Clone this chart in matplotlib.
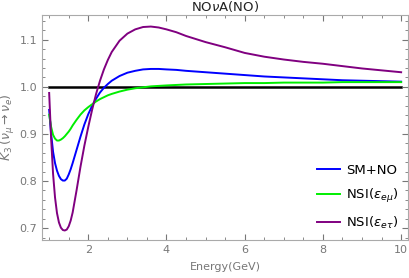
#!/usr/bin/env python

import numpy as np
import matplotlib
matplotlib.use('Agg')
import matplotlib.pyplot as plt
from matplotlib.ticker import MultipleLocator

energy = [1.0, 1.05, 1.1, 1.15, 1.2, 1.25, 1.3, 1.35, 1.4, 1.45, 1.5, 1.55, 1.6,
          1.7, 1.8, 1.9, 2.0, 2.1, 2.2, 2.3, 2.4, 2.5, 2.6, 2.8, 3.0, 3.2, 3.4,
          3.6, 3.8, 4.0, 4.25, 4.5, 5.0, 5.5, 6.0, 6.5, 7.0, 7.5, 8.0, 8.5,
          9.0, 9.5, 10.0]

sm_no = [0.951, 0.900, 0.862, 0.838, 0.822, 0.811, 0.804, 0.801, 0.801, 0.805,
         0.814, 0.825, 0.838, 0.866, 0.894, 0.920, 0.942, 0.960, 0.975, 0.988,
         0.998, 1.006, 1.013, 1.023, 1.030, 1.034, 1.037, 1.038, 1.038, 1.037,
         1.036, 1.034, 1.031, 1.028, 1.025, 1.022, 1.020, 1.018, 1.016, 1.014,
         1.013, 1.012, 1.011]

nsi_emu = [0.941, 0.915, 0.898, 0.890, 0.886, 0.886, 0.888, 0.891, 0.895, 0.900,
           0.905, 0.911, 0.918, 0.930, 0.941, 0.950, 0.957, 0.963, 0.969, 0.974,
           0.978, 0.982, 0.985, 0.990, 0.994, 0.997, 0.999, 1.001, 1.002, 1.003,
           1.004, 1.005, 1.006, 1.007, 1.008, 1.008, 1.009, 1.009, 1.009, 1.010,
           1.010, 1.010, 1.010]

nsi_etau = [0.987, 0.890, 0.815, 0.765, 0.732, 0.712, 0.701, 0.696, 0.695, 0.697,
            0.704, 0.716, 0.733, 0.780, 0.830, 0.875, 0.915, 0.952, 0.985, 1.013,
            1.037, 1.057, 1.074, 1.098, 1.113, 1.122, 1.127, 1.128, 1.126, 1.122,
            1.116, 1.108, 1.095, 1.084, 1.072, 1.064, 1.058, 1.053, 1.049, 1.044,
            1.039, 1.035, 1.031]

gray = '#777777'
plt.rcParams['mathtext.fontset'] = 'dejavusans'

fig = plt.figure(figsize = (4.09, 2.78), dpi = 100)
ax = fig.add_axes([0.103, 0.137, 0.895, 0.809])

ax.plot([energy[0], energy[-1]], [1.0, 1.0], color = 'black', lw = 1.8, zorder = 1)
ax.plot(energy, sm_no, color = '#0000ff', lw = 1.4, label = 'SM+NO')
ax.plot(energy, nsi_emu, color = '#00ee00', lw = 1.4, label = r'NSI($\epsilon_{e\mu}$)')
ax.plot(energy, nsi_etau, color = '#800080', lw = 1.4, label = r'NSI($\epsilon_{e\tau}$)')

ax.set_xlim(0.82, 10.18)
ax.set_ylim(0.675, 1.1525)
ax.xaxis.set_major_locator(MultipleLocator(2))
ax.xaxis.set_minor_locator(MultipleLocator(0.5))
ax.yaxis.set_major_locator(MultipleLocator(0.1))
ax.yaxis.set_minor_locator(MultipleLocator(0.02))
ax.tick_params(which = 'both', direction = 'in', top = True, right = True,
               colors = gray, labelsize = 8)
ax.tick_params(which = 'major', length = 4)
ax.tick_params(which = 'minor', length = 2)
for s in ax.spines.values():
    s.set_color('#aaaaaa')

ax.set_title(r'NO$\nu$A(NO)', fontsize = 9.5, color = '#222222', pad = 3)
ax.set_xlabel('Energy(GeV)', fontsize = 8, color = gray, labelpad = 5)
ax.set_ylabel(r'$K_3\,(\nu_\mu \rightarrow \nu_e)$', fontsize = 9, color = gray, labelpad = 2)

ax.legend(loc = 'lower right', frameon = False, fontsize = 9.5, handlelength = 1.7,
          labelspacing = 0.75, borderaxespad = 0.3, handletextpad = 0.5)

plt.savefig('out.png', dpi = 100)
